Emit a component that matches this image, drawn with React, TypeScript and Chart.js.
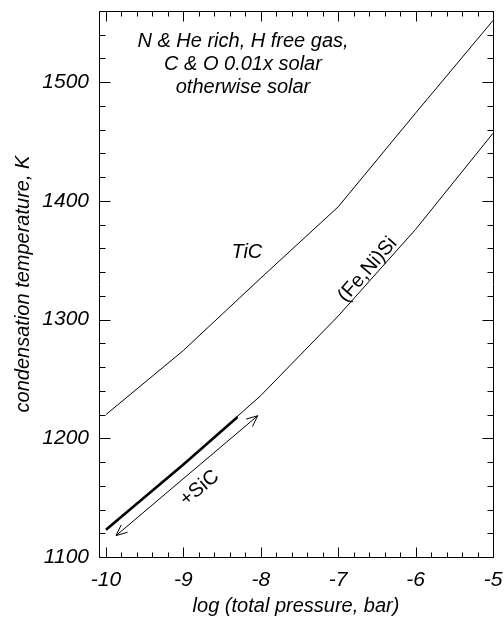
import { useEffect, useRef } from "react";
import { Chart, registerables } from "chart.js";

Chart.register(...registerables);

// log10 of total pressure (bar)
const pressure = [-10, -9, -8, -7, -6, -5];
// condensation temperatures (K)
const ticTemp = [1220, 1274, 1335, 1395, 1474, 1552];
const feNiSiTemp = [1123, 1178, 1236, 1303, 1376, 1457];
// range where SiC condenses together with (Fe,Ni)Si
const sicPressure = [-10, -9, -8.3];
const sicTemp = [1123, 1178, 1218];
// double-headed arrow marking the +SiC range
const sicArrowX = [-9.87, -8.04];
const sicArrowY = [1118, 1219];

const xTickValues = [-10, -9, -8, -7, -6, -5];
const yTickValues = [1100, 1200, 1300, 1400, 1500];

const noteLines = ["N & He rich, H free gas,", "C & O 0.01x solar", "otherwise solar"];

const FONT = '"Liberation Sans", Arial, Helvetica, sans-serif';

const decorPlugin = {
  id: "decor",
  afterDatasetsDraw(chart: any) {
    const { ctx, chartArea: a, scales } = chart;
    const x = scales.x;
    const y = scales.y;
    ctx.save();
    ctx.strokeStyle = "#000";
    ctx.fillStyle = "#000";
    ctx.lineWidth = 1;

    // frame
    const L = Math.round(a.left) + 0.5;
    const R = Math.round(a.right) + 0.5;
    const T = Math.round(a.top) + 0.5;
    const B = Math.round(a.bottom) + 0.5;
    ctx.beginPath();
    ctx.moveTo(L, T);
    ctx.lineTo(R, T);
    ctx.lineTo(R, B);
    ctx.lineTo(L, B);
    ctx.closePath();
    ctx.stroke();

    // inward ticks on all four sides
    ctx.beginPath();
    for (let i = 0; i <= 25; i++) {
      const v = -10 + i * 0.2;
      const len = i % 5 === 0 ? 10 : 5;
      const px = Math.round(x.getPixelForValue(v)) + 0.5;
      ctx.moveTo(px, B);
      ctx.lineTo(px, B - len);
      ctx.moveTo(px, T);
      ctx.lineTo(px, T + len);
    }
    for (let v = 1100; v <= 1560; v += 20) {
      const len = v % 100 === 0 ? 11 : 6;
      const py = Math.round(y.getPixelForValue(v)) + 0.5;
      ctx.moveTo(L, py);
      ctx.lineTo(L + len, py);
      ctx.moveTo(R, py);
      ctx.lineTo(R - len, py);
    }
    ctx.stroke();

    // +SiC arrow
    const x0 = x.getPixelForValue(sicArrowX[0]);
    const y0 = y.getPixelForValue(sicArrowY[0]);
    const x1 = x.getPixelForValue(sicArrowX[1]);
    const y1 = y.getPixelForValue(sicArrowY[1]);
    const ang = Math.atan2(y1 - y0, x1 - x0);
    const head = 12;
    const spread = (24 * Math.PI) / 180;
    ctx.beginPath();
    ctx.moveTo(x0, y0);
    ctx.lineTo(x1, y1);
    ctx.moveTo(x1 - head * Math.cos(ang - spread), y1 - head * Math.sin(ang - spread));
    ctx.lineTo(x1, y1);
    ctx.lineTo(x1 - head * Math.cos(ang + spread), y1 - head * Math.sin(ang + spread));
    ctx.moveTo(x0 + head * Math.cos(ang - spread), y0 + head * Math.sin(ang - spread));
    ctx.lineTo(x0, y0);
    ctx.lineTo(x0 + head * Math.cos(ang + spread), y0 + head * Math.sin(ang + spread));
    ctx.stroke();

    ctx.textAlign = "center";
    ctx.textBaseline = "middle";

    // note in the upper left
    ctx.font = `italic 20px ${FONT}`;
    const nx = x.getPixelForValue(-8.23);
    noteLines.forEach((line, i) => {
      ctx.fillText(line, nx, y.getPixelForValue(1534 - i * 19));
    });

    // curve labels
    ctx.fillText("TiC", x.getPixelForValue(-8.18), y.getPixelForValue(1357));

    ctx.font = `20px ${FONT}`;
    ctx.save();
    ctx.translate(x.getPixelForValue(-6.62), y.getPixelForValue(1342));
    ctx.rotate((-49 * Math.PI) / 180);
    ctx.fillText("(Fe,Ni)Si", 0, 0);
    ctx.restore();

    ctx.save();
    ctx.translate(x.getPixelForValue(-8.79), y.getPixelForValue(1158));
    ctx.rotate((-40 * Math.PI) / 180);
    ctx.fillText("+SiC", 0, 0);
    ctx.restore();

    ctx.restore();
  },
};

// keep tick labels from pushing the plot area inward
const zeroPadding = (s: any) => {
  s.paddingLeft = 0;
  s.paddingRight = 0;
  s.paddingTop = 0;
  s.paddingBottom = 0;
};

export default function App() {
  const canvasRef = useRef<HTMLCanvasElement | null>(null);

  useEffect(() => {
    const canvas = canvasRef.current;
    if (!canvas) return;
    const toPoints = (xs: number[], ys: number[]) => xs.map((v, i) => ({ x: v, y: ys[i] }));
    const line = { showLine: true, pointRadius: 0, borderColor: "#000", fill: false, tension: 0 };

    const chart = new Chart(canvas, {
      type: "scatter",
      data: {
        datasets: [
          { ...line, label: "TiC", data: toPoints(pressure, ticTemp), borderWidth: 1 },
          { ...line, label: "(Fe,Ni)Si", data: toPoints(pressure, feNiSiTemp), borderWidth: 1 },
          { ...line, label: "+SiC", data: toPoints(sicPressure, sicTemp), borderWidth: 2.6 },
        ],
      },
      options: {
        animation: false,
        responsive: false,
        devicePixelRatio: 1,
        layout: { padding: { left: 0, right: 11, top: 11, bottom: 0 } },
        plugins: { legend: { display: false }, tooltip: { enabled: false } },
        scales: {
          x: {
            type: "linear",
            position: "bottom",
            min: -10.09,
            max: -5,
            afterBuildTicks: (s: any) => {
              s.ticks = xTickValues.map((v) => ({ value: v }));
            },
            afterFit: (s: any) => {
              s.height = 62;
              zeroPadding(s);
            },
            grid: { display: false, drawTicks: false },
            border: { display: false },
            ticks: {
              autoSkip: false,
              maxRotation: 0,
              padding: 11,
              color: "#000",
              font: { family: FONT, size: 21, style: "italic" },
              callback: (v: any) => String(v),
            },
            title: {
              display: true,
              text: "log (total pressure, bar)",
              color: "#000",
              font: { family: FONT, size: 20, style: "italic" },
              padding: { top: 0, bottom: 1 },
            },
          },
          y: {
            type: "linear",
            position: "left",
            min: 1100,
            max: 1560,
            afterBuildTicks: (s: any) => {
              s.ticks = yTickValues.map((v) => ({ value: v }));
            },
            afterFit: (s: any) => {
              s.width = 99;
              zeroPadding(s);
            },
            grid: { display: false, drawTicks: false },
            border: { display: false },
            ticks: {
              autoSkip: false,
              padding: 10,
              color: "#000",
              font: { family: FONT, size: 21, style: "italic" },
              callback: (v: any) => String(v),
            },
            title: {
              display: true,
              text: "condensation temperature, K",
              color: "#000",
              font: { family: FONT, size: 20, style: "italic" },
              padding: { top: 11, bottom: 0 },
            },
          },
        },
      },
      plugins: [decorPlugin],
    });
    return () => chart.destroy();
  }, []);

  return (
    <div style={{ position: "fixed", left: 0, top: 0, width: 504, height: 619, background: "#fff" }}>
      <canvas ref={canvasRef} width={504} height={619} style={{ display: "block" }} />
    </div>
  );
}
